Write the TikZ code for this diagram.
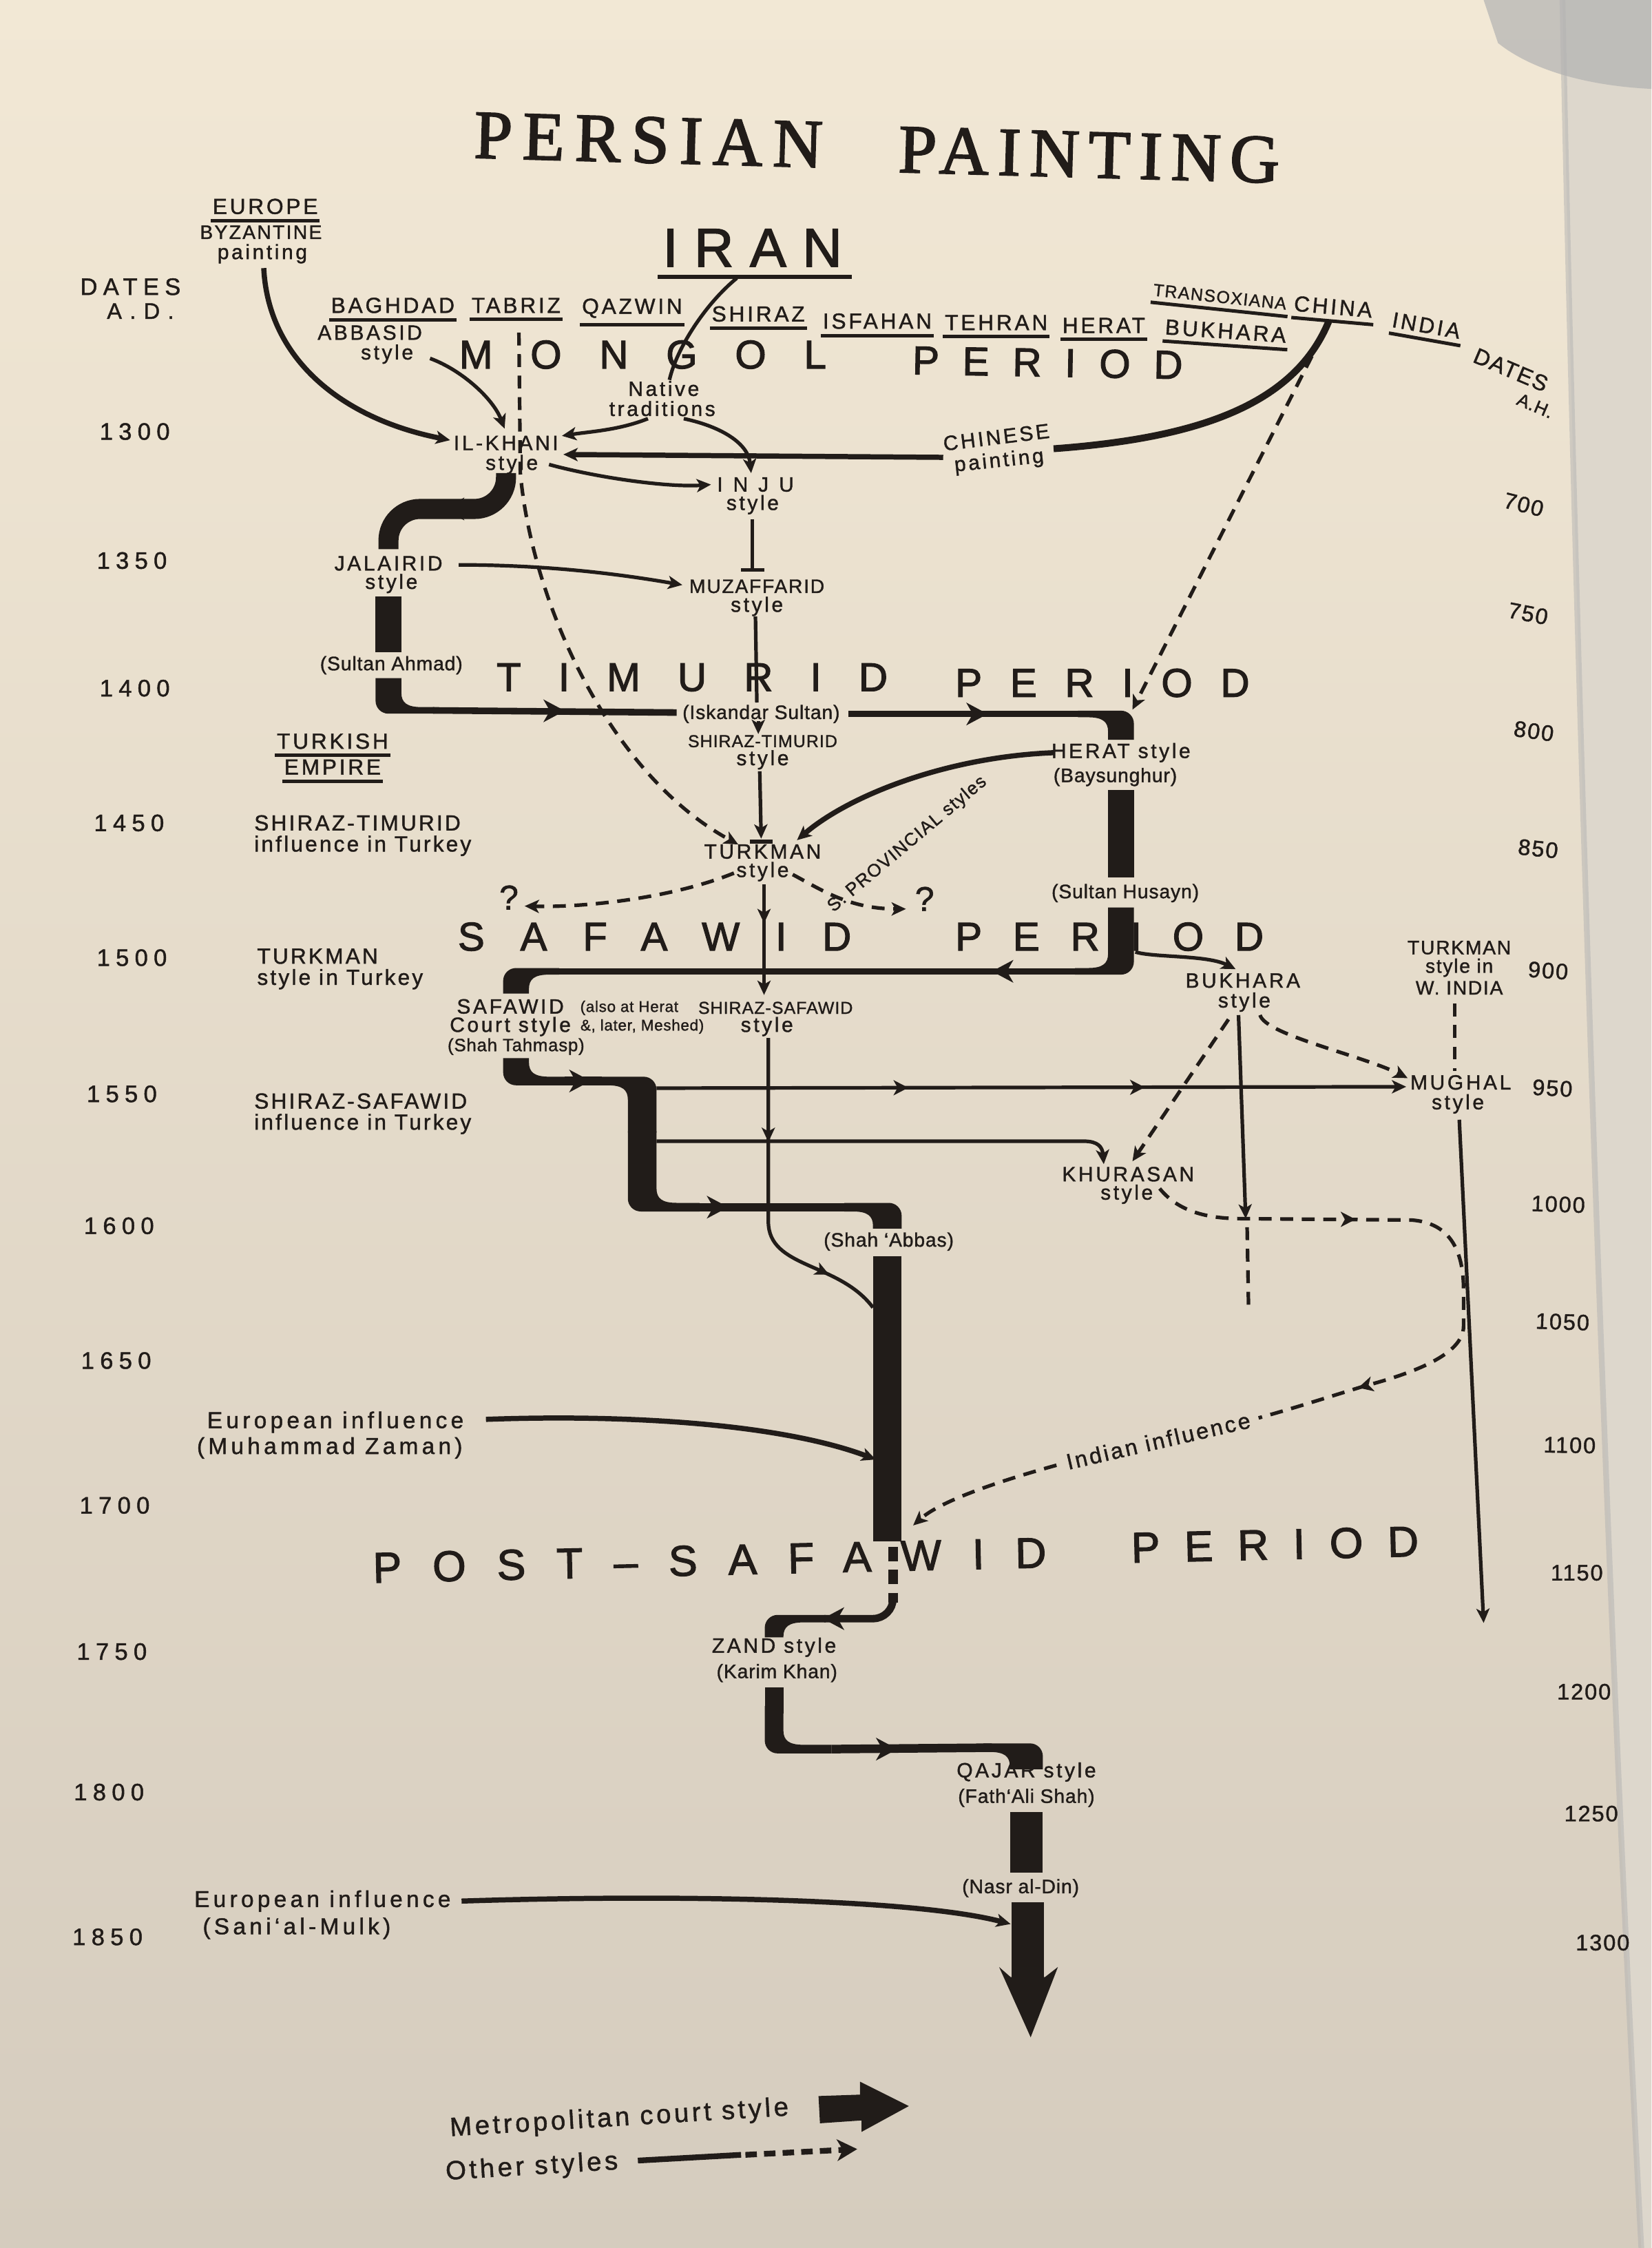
\documentclass[tikz,border=0pt]{standalone}
\usepackage{fontspec}
\setmainfont{Liberation Sans}
\newfontfamily\titlefont{Liberation Serif}
\usetikzlibrary{arrows.meta,decorations.markings}
\definecolor{ink}{HTML}{211C19}
\definecolor{bgtop}{HTML}{F2E8D5}
\definecolor{bgbot}{HTML}{D5CCBE}
\definecolor{pageb}{HTML}{DDD7CC}
\newcommand\fz[1]{\fontsize{#1}{#1}\selectfont}
\newcommand\lsp[1]{\addfontfeatures{LetterSpace=#1,FakeBold=1.3}}
\newcommand\lspb[1]{\addfontfeatures{LetterSpace=#1,FakeBold=2}}
% bar from above (top #7) turning horizontal, direction #5
\newcommand\elbowA[7]{\fill[ink] ({#1-(#5)*#3},#7) -- ({#1-(#5)*#3},{#2+#4-9}) .. controls ({#1-(#5)*#3},{#2+#4-4}) and ({#1-(#5)*(#3-4)},{#2+#4}) .. ({#1-(#5)*(#3-9)},{#2+#4}) -- ({#1+(#5)*#6},{#2+#4}) -- ({#1+(#5)*#6},{#2-#4}) -- ({#1+(#5)*(#3+14)},{#2-#4}) .. controls ({#1+(#5)*(#3+4)},{#2-#4}) and ({#1+(#5)*#3},{#2-#4-3}) .. ({#1+(#5)*#3},{#2-#4-10}) -- ({#1+(#5)*#3},#7) -- cycle;}
% horizontal moving in direction #5 turning down (bottom #7)
\newcommand\elbowB[7]{\fill[ink] ({#1-(#5)*#6},{#2-#4}) -- ({#1+(#5)*(#3-9)},{#2-#4}) .. controls ({#1+(#5)*(#3-4)},{#2-#4}) and ({#1+(#5)*#3},{#2-#4+4}) .. ({#1+(#5)*#3},{#2-#4+9}) -- ({#1+(#5)*#3},#7) -- ({#1-(#5)*#3},#7) -- ({#1-(#5)*#3},{#2+#4+10}) .. controls ({#1-(#5)*#3},{#2+#4+3}) and ({#1-(#5)*(#3+4)},{#2+#4}) .. ({#1-(#5)*(#3+14)},{#2+#4}) -- ({#1-(#5)*#6},{#2+#4}) -- cycle;}
\newcommand\chev[3]{\fill[ink,shift={(#1,#2)},rotate=#3] (4pt,0pt) -- (-3.5pt,4pt) -- (-1.2pt,0pt) -- (-3.5pt,-4pt) -- cycle;}
\newcommand\chevs[3]{\fill[ink,shift={(#1,#2)},rotate=#3] (2.8pt,0pt) -- (-2.4pt,2.7pt) -- (-0.9pt,0pt) -- (-2.4pt,-2.7pt) -- cycle;}
\newcommand\undl[1]{\draw[uline] ([yshift=-1.6pt]#1.south west) -- ([yshift=-1.6pt]#1.south east);}
\begin{document}
\begin{tikzpicture}[x=0.5pt,y=-0.5pt,
 lab/.style={font=\fz{7.2}\lsp{12},text=ink,inner sep=0.5pt},
 labl/.style={font=\fz{7.6}\lsp{10},text=ink,inner sep=0.5pt,anchor=west},
 par/.style={font=\fz{6.8}\lsp{3},text=ink,inner sep=0.5pt},
 sm/.style={font=\fz{6}\lsp{4},text=ink,inner sep=0.5pt},
 city/.style={font=\fz{7.6}\lsp{12},text=ink,inner sep=0.5pt},
 per/.style={text=ink,inner sep=0pt,anchor=base west},
 dad/.style={font=\fz{8.3}\lsp{24},text=ink,inner sep=0pt},
 dah/.style={font=\fz{7.8}\lsp{6},text=ink,inner sep=0pt},
 thin/.style={draw=ink,line width=1.25pt},
 med/.style={draw=ink,line width=1.8pt},
 dsh/.style={draw=ink,line width=1.25pt,dash pattern=on 4.5pt off 3pt},
 uline/.style={draw=ink,line width=1.2pt},
 barw/.style={draw=ink,line width=#1},
 >={Stealth[length=5pt,width=4.6pt,inset=1.3pt]},
 midarr/.style={postaction={decorate,decoration={markings,mark=at position #1 with {\arrow{>}}}}},
]
% ---------- background ----------
\useasboundingbox (0,0) rectangle (1152,1568);
\shade[top color=bgtop,bottom color=bgbot] (0,0) rectangle (1152,1568);
\fill[pageb] (1090,0) .. controls (1100,500) and (1120,1100) .. (1145,1568) -- (1152,1568) -- (1152,0) -- cycle;
\draw[color=black!30,line width=2pt,opacity=0.5] (1090,0) .. controls (1100,500) and (1120,1100) .. (1145,1568);
\fill[color=black!30,opacity=0.7] (1035,0) -- (1152,0) -- (1152,62) .. controls (1110,60) and (1070,50) .. (1045,30) -- cycle;

% ---------- metropolitan court line ----------
\draw[ink,line width=7pt,rounded corners=11] (353,330) -- (353,355) -- (271,355) -- (271,383);
\chev{317}{355}{180}
\draw[barw=9pt] (271,416) -- (271,455);
\elbowA{271}{495.5}{9}{2.3}{1}{32}{473}
\draw[ink,line width=2.3pt] (302,495.5) -- (472,497);
\chev{386}{495.8}{0}
\draw[ink,line width=2.3pt] (592,498) -- (754,498);
\chev{681}{498}{0}
\elbowB{782}{498}{9}{2.3}{1}{30}{516}
\draw[barw=9pt] (782,551) -- (782,612);
\elbowA{782}{677.5}{9}{2.3}{-1}{32}{633}
\draw[ink,line width=2.3pt] (750,677.5) -- (385,677.5);
\chev{700}{677.5}{180}
\elbowB{360}{677.5}{9}{2.3}{-1}{30}{693}
\elbowA{360}{754}{9}{3}{1}{34}{738}
\draw[ink,line width=3pt] (394,754) -- (420,754);
\chev{404}{754}{0}
\elbowB{448}{754}{10}{3}{1}{30}{790}
\elbowA{448}{842}{10}{3}{1}{40}{789}
\draw[ink,line width=3pt] (488,842) -- (592,842);
\chev{500}{842}{0}
\elbowB{619}{842}{10}{3}{1}{30}{857}
\draw[barw=10pt] (619,876) -- (619,1075);
\draw[ink,line width=3.2pt,dash pattern=on 5pt off 3pt] (623,1079) -- (623,1118);
\draw[ink,line width=2.6pt,rounded corners=7] (623,1117) -- (623,1129) -- (575,1129);
\elbowB{540}{1129}{6.5}{2.6}{-1}{36}{1142}
\chev{582}{1129}{180}
\draw[barw=6.5pt] (540,1177) -- (540,1195);
\elbowA{540}{1220}{6.5}{3}{1}{40}{1190}
\draw[ink,line width=3pt] (580,1220) -- (692,1219);
\chev{618}{1220}{0}
\elbowB{716}{1219}{11.5}{3}{1}{30}{1234}
\draw[barw=11.5pt] (716,1264) -- (716,1306);
\draw[barw=11.5pt] (717,1327) -- (717,1379);
\fill[ink] (697,1372) -- (719,1421) -- (738,1372) -- (729,1379) -- (705,1379) -- cycle;

% ---------- other connectors ----------
\draw[med,->] (184,187) .. controls (187,250) and (238,292) .. (314,307);
\draw[thin,->] (300,250) .. controls (322,258) and (344,278) .. (352,299);
\draw[dsh,->] (362,232) -- (363,330) .. controls (371,420) and (425,540) .. (515,589);
\draw[thin] (514,194) .. controls (492,212) and (472,243) .. (467,265);
\draw[thin,->] (452,292) .. controls (432,300) and (412,301) .. (392,304);
\draw[thin,->] (477,292) .. controls (505,298) and (522,310) .. (524,330);
\draw[med,->] (658,319) -- (393,317);
\draw[ink,line width=2.4pt] (927,224) .. controls (902,285) and (830,306) .. (735,313);
\draw[thin,->] (383,324) .. controls (420,334) and (468,340) .. (496,338);
\draw[thin] (525,362) -- (525,397);
\draw[thin] (517,397.5) -- (533,397.5);
\draw[thin,->] (320,394) .. controls (380,394) and (430,400) .. (476,408);
\draw[thin] (527,430) -- (528,490);
\draw[thin,->] (529,503) -- (529,512);
\draw[thin,->] (530,538) -- (531,585);
\draw[thin] (523,587) -- (539,587);
\draw[med,->] (735,525) .. controls (660,528) and (592,555) .. (556,586);
\draw[dsh,->] (512,609) .. controls (470,626) and (410,633) .. (366,632);
\draw[dsh,->] (553,610) .. controls (572,620) and (592,634) .. (632,634);
\draw[thin,midarr=0.35,->] (533,617) -- (533,694);
\draw[thin,->] (792,664) .. controls (805,668) and (842,666) .. (862,676);
\draw[dsh,->] (922,235) -- (790,495);
\draw[dsh,->] (857,711) -- (790,810);
\draw[thin,->] (864,708) -- (869,850);
\draw[dsh] (870,856) -- (871,912);
\draw[dsh,->] (879,708) .. controls (883,722) and (950,736) .. (982,752);
\draw[dsh] (1015,700) -- (1015,747);
\draw[thin,->] (1018,781) -- (1035,1132);
\draw[thin,->] (458,759) -- (981,758);
\chevs{628}{758.7}{0}
\chevs{793}{758.4}{0}
\draw[thin,->] (458,796) -- (756,796) .. controls (766,796) and (769,800) .. (770,812);
\draw[thin,midarr=0.32,midarr=0.83] (536,724) -- (536,852) .. controls (536,885) and (585,880) .. (609,912);
\draw[dsh] (809,829) .. controls (822,845) and (842,850) .. (866,850) -- (985,851) .. controls (1010,853) and (1021,870) .. (1021,900) -- (1021,925) .. controls (1021,945) and (985,958) .. (951,967) .. controls (925,975) and (900,983) .. (878,989);
\chevs{940}{850.5}{0}
\chevs{953}{966.5}{195}
\draw[dsh,->] (737,1022) .. controls (690,1035) and (655,1048) .. (637,1064);
\draw[med,->] (339,990) .. controls (450,986) and (550,995) .. (611,1018);
\draw[med,->] (322,1326) .. controls (480,1321) and (640,1325) .. (705,1342);

% ---------- legend arrows ----------
\fill[ink] (571,1462) -- (600,1461) -- (600,1452) -- (634,1469) -- (601,1487) -- (601,1479) -- (572,1481) -- cycle;
\draw[ink,line width=2pt] (445,1507) -- (517,1503);
\draw[ink,line width=2pt,dash pattern=on 4pt off 2.5pt,-{Stealth[length=7pt,width=7.5pt,inset=2pt]}] (520,1503) -- (598,1499);

% ---------- title ----------
\node[per,font=\titlefont\fz{24}\lspb{15},rotate=-1.6] (tit1) at (330,110) {PERSIAN};
\node[per,font=\titlefont\fz{24}\lspb{13},rotate=-1.6] (tit2) at (626,120) {PAINTING};
\node[per,font=\fz{19}\lspb{30}] (iran) at (462,186) {IRAN};
\draw[uline,line width=1.5pt] (459,193) -- (594,193);

% ---------- header ----------
\node[city] (eur) at (185,144) {EUROPE}; \undl{eur}
\node[font=\fz{6.8}\lsp{8},text=ink,inner sep=0.5pt] (byz) at (182,162) {BYZANTINE};
\node[lab] (byzp) at (183,177) {painting};
\node[dad] (dat) at (91,200) {DATES};
\node[font=\fz{7.8}\lsp{35},text=ink,inner sep=0pt] (adl) at (98,217) {A.D.};
\node[city] (bag) at (274,213) {BAGHDAD}; \undl{bag}
\node[city] (tab) at (360,213) {TABRIZ}; \undl{tab}
\node[city] (qaz) at (441,215) {QAZWIN}; \undl{qaz}
\node[city] (shi) at (529,219) {SHIRAZ}; \undl{shi}
\node[city] (isf) at (612,224) {ISFAHAN}; \undl{isf}
\node[city] (teh) at (695,225) {TEHRAN}; \undl{teh}
\node[city] (her) at (770,227) {HERAT}; \undl{her}
\node[city,rotate=-4] (buk) at (855,231) {BUKHARA}; \undl{buk}
\node[font=\fz{6}\lsp{6},text=ink,inner sep=0.5pt,rotate=-6] (trx) at (851,207) {TRANSOXIANA}; \undl{trx}
\node[city,rotate=-5] (chi) at (930,214) {CHINA}; \undl{chi}
\node[city,rotate=-10] (ind) at (995,227) {INDIA}; \undl{ind}
\node[lab] (abb1) at (258,232) {ABBASID};
\node[lab] (abb2) at (270,247) {style};
\node[per,font=\fz{14}\lspb{94}] (mon1) at (320,257) {MONGOL};
\node[per,font=\fz{14}\lspb{58},rotate=-1] (mon2) at (636,261) {PERIOD};
\node[dah,rotate=-23] (dah) at (1054,258) {DATES};
\node[font=\fz{6.3}\lsp{4},text=ink,inner sep=0pt,rotate=-23] (ahl) at (1071,283) {A.H.};

% ---------- labels ----------
\node[lab] (nat1) at (463,271) {Native};
\node[lab] (nat2) at (462,285) {traditions};
\node[lab] (ilk1) at (353,309) {IL-KHANI};
\node[lab] (ilk2) at (357,324) {style};
\node[lab,rotate=7] (chn1) at (695,305) {CHINESE};
\node[lab,rotate=6] (chn2) at (697,322) {painting};
\node[lab,font=\fz{7.2}\lsp{50}] (inj1) at (527,338) {INJU};
\node[lab] (inj2) at (525,352) {style};
\node[lab] (jal1) at (271,393) {JALAIRID};
\node[lab] (jal2) at (273,407) {style};
\node[lab,font=\fz{6.8}\lsp{6}] (muz1) at (528,409) {MUZAFFARID};
\node[lab] (muz2) at (528,423) {style};
\node[par] (sah) at (273,464) {(Sultan Ahmad)};
\node[per,font=\fz{14}\lspb{93}] (tim1) at (346,482) {TIMURID};
\node[per,font=\fz{14}\lspb{70}] (tim2) at (666,486) {PERIOD};
\node[par] (isk) at (531,498) {(Iskandar Sultan)};
\node[sm] (shtm1) at (532,517) {SHIRAZ-TIMURID};
\node[lab] (shtm2) at (532,530) {style};
\node[lab] (hrt1) at (782,525) {HERAT style};
\node[par] (hrt2) at (778,542) {(Baysunghur)};
\node[city] (tke1) at (232,517) {TURKISH}; \undl{tke1}
\node[city] (tke2) at (232,535) {EMPIRE}; \undl{tke2}
\node[labl] (stl1) at (176,574) {SHIRAZ-TIMURID};
\node[labl] (stl2) at (176,590) {influence in Turkey};
\node[lab] (tkm1) at (532,594) {TURKMAN};
\node[lab] (tkm2) at (532,608) {style};
\node[font=\fz{6.3}\lsp{6},text=ink,inner sep=0.5pt,rotate=40] (spv) at (633,589) {S. PROVINCIAL styles};
\node[font=\fz{12}\lsp{0},text=ink,inner sep=0pt] (q1) at (355,626) {?};
\node[font=\fz{12}\lsp{0},text=ink,inner sep=0pt] (q2) at (645,627) {?};
\node[par] (shu) at (785,623) {(Sultan Husayn)};
\node[per,font=\fz{14}\lspb{89}] (saf1) at (319,663) {SAFAWID};
\node[per,font=\fz{14}\lspb{77}] (saf2) at (666,663) {PERIOD};
\node[labl] (tkt1) at (178,667) {TURKMAN};
\node[labl] (tkt2) at (178,683) {style in Turkey};
\node[lab,font=\fz{6.8}\lsp{6}] (tkw1) at (1018,661) {TURKMAN};
\node[lab,font=\fz{6.8}\lsp{6}] (tkw2) at (1018,675) {style in};
\node[lab,font=\fz{6.8}\lsp{6}] (tkw3) at (1018,689) {W. INDIA};
\node[lab] (bk1) at (867,684) {BUKHARA};
\node[lab] (bk2) at (868,699) {style};
\node[lab] (sf1) at (356,702) {SAFAWID};
\node[lab] (sf2) at (356,716) {Court style};
\node[font=\fz{6.2}\lsp{3},text=ink,inner sep=0.5pt] (sf3) at (360,730) {(Shah Tahmasp)};
\node[font=\fz{5.4}\lsp{3},text=ink,inner sep=0.5pt] (sfa1) at (439,703) {(also at Herat};
\node[font=\fz{5.4}\lsp{3},text=ink,inner sep=0.5pt] (sfa2) at (448,716) {\&, later, Meshed)};
\node[sm] (shs1) at (541,703) {SHIRAZ-SAFAWID};
\node[lab] (shs2) at (535,716) {style};
\node[lab] (mug1) at (1019,755) {MUGHAL};
\node[lab] (mug2) at (1017,770) {style};
\node[labl] (ssl1) at (176,768) {SHIRAZ-SAFAWID};
\node[labl] (ssl2) at (176,784) {influence in Turkey};
\node[lab] (khu1) at (787,819) {KHURASAN};
\node[lab] (khu2) at (786,833) {style};
\node[par] (sab) at (620,866) {(Shah ‘Abbas)};
\node[lab,font=\fz{8}\lsp{16}] (eu1) at (234,992) {European influence};
\node[lab,font=\fz{8}\lsp{16}] (eu2) at (230,1010) {(Muhammad Zaman)};
\node[lab,font=\fz{7.8}\lsp{10},rotate=13] (indi) at (808,1005) {Indian influence};
\node[per,font=\fz{15}\lspb{72},rotate=1.3] (post1) at (260,1104) {POST–SAFAWID};
\node[per,font=\fz{15}\lspb{57},rotate=1.3] (post2) at (789,1090) {PERIOD};
\node[lab] (zd1) at (540,1149) {ZAND style};
\node[par] (zd2) at (542,1167) {(Karim Khan)};
\node[lab] (qj1) at (716,1236) {QAJAR style};
\node[par] (qj2) at (716,1254) {(Fath‘Ali Shah)};
\node[par] (nsr) at (712,1317) {(Nasr al-Din)};
\node[lab,font=\fz{8}\lsp{16}] (eu3) at (225,1326) {European influence};
\node[lab,font=\fz{8}\lsp{16}] (eu4) at (207,1345) {(Sani‘al-Mulk)};
\node[font=\fz{9.2}\lsp{12},text=ink,inner sep=0pt,rotate=3.5] (lg1) at (432,1478) {Metropolitan court style};
\node[font=\fz{9.2}\lsp{12},text=ink,inner sep=0pt,rotate=3.5] (lg2) at (371,1512) {Other styles};

% ---------- dates A.D. ----------
\node[dad] (d1300) at (94,301) {1300};
\node[dad] (d1350) at (92,391) {1350};
\node[dad] (d1400) at (94,480) {1400};
\node[dad] (d1450) at (90,574) {1450};
\node[dad] (d1500) at (92,668) {1500};
\node[dad] (d1550) at (85,763) {1550};
\node[dad] (d1600) at (83,855) {1600};
\node[dad] (d1650) at (81,949) {1650};
\node[dad] (d1700) at (80,1050) {1700};
\node[dad] (d1750) at (78,1152) {1750};
\node[dad] (d1800) at (76,1250) {1800};
\node[dad] (d1850) at (75,1351) {1850};
% ---------- dates A.H. ----------
\node[dah,rotate=-14] (h700) at (1063,352) {700};
\node[dah,rotate=-11] (h750) at (1066,428) {750};
\node[dah,rotate=-8] (h800) at (1070,510) {800};
\node[dah,rotate=-6] (h850) at (1073,592) {850};
\node[dah,rotate=-4] (h900) at (1080,677) {900};
\node[dah,rotate=-3] (h950) at (1083,759) {950};
\node[dah,rotate=-2] (h1000) at (1087,840) {1000};
\node[dah,rotate=-2] (h1050) at (1090,922) {1050};
\node[dah,rotate=-1] (h1100) at (1095,1008) {1100};
\node[dah] (h1150) at (1100,1097) {1150};
\node[dah] (h1200) at (1105,1180) {1200};
\node[dah] (h1250) at (1110,1265) {1250};
\node[dah] (h1300) at (1118,1355) {1300};
\end{tikzpicture}
\end{document}
